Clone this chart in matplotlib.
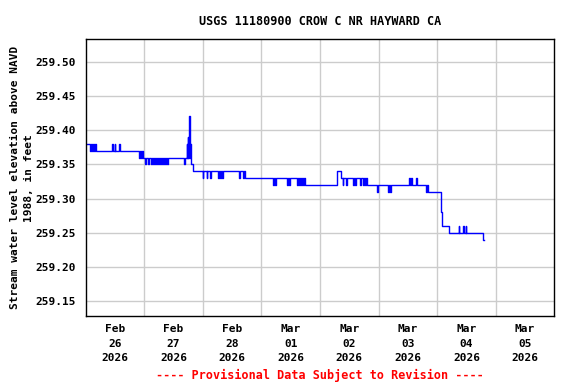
import matplotlib
matplotlib.use("Agg")
import matplotlib.pyplot as plt

# Gage height record, hours since 2026-02-26 00:00 (step changes)
hours = [
    0.0, 1.8, 2.3, 2.6, 3.0, 3.3, 3.8, 4.1,
    10.8, 11.1, 11.8, 12.1, 13.6, 13.9,
    21.8, 22.2, 22.6, 23.0, 23.4,
    24.2, 24.6, 25.4, 25.8, 26.6, 27.0, 27.6, 28.0, 28.4, 28.8, 29.2, 29.6,
    30.0, 30.4, 30.8, 31.2, 31.6, 32.0, 32.4, 32.8, 33.4, 33.8,
    40.2, 40.5,
    41.4, 41.6, 41.8, 42.0, 42.2, 42.4, 42.6, 42.8, 43.0, 43.9,
    47.9, 48.2, 49.5, 49.8, 51.1, 51.4, 54.3, 54.6, 55.0, 55.4, 55.8, 56.2,
    62.9, 63.2, 64.6, 64.9, 65.2,
    76.7, 77.0, 77.6, 77.9,
    82.4, 82.8, 83.2, 83.6,
    86.6, 87.0, 87.4, 87.8, 88.4, 88.8, 89.2, 89.6, 90.0, 90.5,
    103.1, 104.8,
    105.3, 105.6, 106.8, 107.1,
    109.6, 110.0, 110.4, 110.7, 111.0,
    112.2, 112.6, 112.9,
    113.7, 114.1, 114.5, 115.0, 115.4, 115.7,
    119.4, 119.7,
    123.7, 124.1, 124.5, 124.9, 125.5,
    132.4, 132.8, 133.2, 133.6, 134.0, 135.3, 135.6,
    139.3, 139.7, 140.1, 140.5,
    145.5, 145.8, 148.7,
    152.8, 153.1, 154.8, 155.1, 155.7, 156.0,
    162.9, 163.0,
]
level = [
    259.38, 259.37, 259.38, 259.37, 259.38, 259.37, 259.38, 259.37,
    259.38, 259.37, 259.38, 259.37, 259.38, 259.37,
    259.36, 259.37, 259.36, 259.37, 259.36,
    259.35, 259.36, 259.35, 259.36, 259.35, 259.36, 259.35, 259.36, 259.35, 259.36, 259.35, 259.36,
    259.35, 259.36, 259.35, 259.36, 259.35, 259.36, 259.35, 259.36, 259.35, 259.36,
    259.35, 259.36,
    259.38, 259.36, 259.39, 259.36, 259.38, 259.42, 259.36, 259.38, 259.35, 259.34,
    259.33, 259.34, 259.33, 259.34, 259.33, 259.34, 259.33, 259.34, 259.33, 259.34, 259.33, 259.34,
    259.33, 259.34, 259.33, 259.34, 259.33,
    259.32, 259.33, 259.32, 259.33,
    259.32, 259.33, 259.32, 259.33,
    259.32, 259.33, 259.32, 259.33, 259.32, 259.33, 259.32, 259.33, 259.32, 259.32,
    259.34, 259.33,
    259.32, 259.33, 259.32, 259.33,
    259.32, 259.33, 259.32, 259.33, 259.33,
    259.32, 259.33, 259.33,
    259.32, 259.33, 259.32, 259.33, 259.32, 259.32,
    259.31, 259.32,
    259.31, 259.32, 259.31, 259.32, 259.32,
    259.33, 259.32, 259.33, 259.32, 259.32, 259.33, 259.32,
    259.31, 259.32, 259.31, 259.31,
    259.28, 259.26, 259.25,
    259.26, 259.25, 259.26, 259.25, 259.26, 259.25,
    259.24, 259.24,
]

day_labels = ["Feb\n26\n2026", "Feb\n27\n2026", "Feb\n28\n2026", "Mar\n01\n2026",
              "Mar\n02\n2026", "Mar\n03\n2026", "Mar\n04\n2026", "Mar\n05\n2026"]
y_ticks = [259.15, 259.20, 259.25, 259.30, 259.35, 259.40, 259.45, 259.50]

FONT = "DejaVu Sans Mono"

fig = plt.figure(figsize=(5.76, 3.84), dpi=100)
ax = fig.add_axes([0.1488, 0.1771, 0.8135, 0.7206])

ax.plot(hours, level, color="#0000ff", lw=1.0, drawstyle="steps-post")

ax.set_xlim(0, 24 * len(day_labels))
ax.set_ylim(259.1285, 259.5327)

ax.set_xticks([24 * i for i in range(1, len(day_labels))])
ax.set_xticklabels([])
ax.set_xticks([24 * i + 12 for i in range(len(day_labels))], minor=True)
ax.set_xticklabels(day_labels, minor=True, fontfamily=FONT,
                   fontweight="bold", fontsize=8, linespacing=1.55)
ax.set_yticks(y_ticks)
ax.set_yticklabels([f"{v:.2f}" for v in y_ticks], fontfamily=FONT,
                   fontweight="bold", fontsize=8)
ax.tick_params(which="both", length=0, pad=7)
ax.tick_params(axis="x", which="minor", pad=6)

ax.grid(True, which="major", color="#cccccc", lw=1)
ax.set_axisbelow(True)
for s in ax.spines.values():
    s.set_color("black")
    s.set_linewidth(1)

ax.set_ylabel("Stream water level elevation above NAVD\n1988, in feet",
              fontfamily=FONT, fontweight="bold", fontsize=8, labelpad=1,
              linespacing=1.55)
ax.set_title("USGS 11180900 CROW C NR HAYWARD CA", fontfamily=FONT,
             fontweight="bold", fontsize=8.5, pad=10)

fig.text(0.5556, 0.005, "---- Provisional Data Subject to Revision ----",
         color="red", ha="center", va="bottom", fontfamily=FONT,
         fontweight="bold", fontsize=8.5)

fig.savefig("out.png", dpi=100)
